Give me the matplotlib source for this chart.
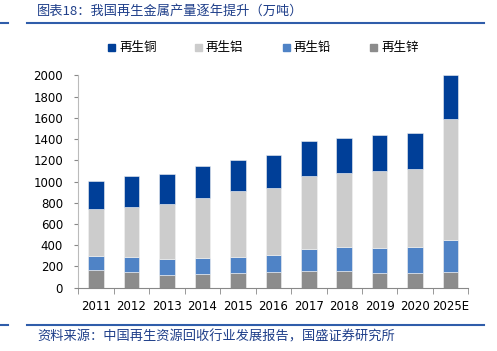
import numpy as np
import matplotlib.pyplot as plt
from matplotlib.lines import Line2D

plt.rcParams['font.family'] = ['Noto Sans CJK SC', 'DejaVu Sans']

years = ['2011', '2012', '2013', '2014', '2015', '2016', '2017', '2018', '2019', '2020', '2025E']
zinc = [167, 145, 120, 129, 135, 148, 157, 160, 141, 141, 148]
lead = [134, 141, 150, 150, 154, 163, 204, 223, 235, 239, 298]
aluminum = [437, 476, 520, 562, 618, 627, 687, 694, 722, 737, 1142]
copper = [270, 286, 283, 307, 297, 308, 330, 335, 342, 336, 411]

names = ['再生铜', '再生铝', '再生铅', '再生锌']
colors = ['#003F98', '#CCCCCC', '#4F83C6', '#8C8C8C']

fig = plt.figure(figsize=(4.97, 3.51), dpi=100)
ax = fig.add_axes([0.1576, 0.1803, 0.7847, 0.6052])

x = np.arange(len(years))
w = 0.44
bottom = np.zeros(len(years))
for vals, c in [(zinc, colors[3]), (lead, colors[2]), (aluminum, colors[1]), (copper, colors[0])]:
    ax.bar(x, vals, w, bottom=bottom, color=c, edgecolor='#F2F2F2', linewidth=0.4)
    bottom += np.array(vals)

ax.set_xlim(-0.5, len(years) - 0.5)
ax.set_ylim(0, 2000)
ax.set_yticks(range(0, 2001, 200))
ax.tick_params(axis='y', labelsize=8.5, length=3, color='#888888', pad=8)
ax.set_xticks(x)
ax.set_xticklabels(years, fontsize=8.5)
ax.tick_params(axis='x', length=0, pad=9)
ax.set_xticks(np.arange(-0.5, len(years) + 0.5, 1), minor=True)
ax.tick_params(axis='x', which='minor', length=4, color='#888888')
for s in ['top', 'right']:
    ax.spines[s].set_visible(False)
ax.spines['left'].set_color('#BBBBBB')
ax.spines['bottom'].set_color('#888888')
for lbl in ax.get_xticklabels() + ax.get_yticklabels():
    lbl.set_family('DejaVu Sans')

# legend
lx = [108, 195, 283, 370]
for px, name, c in zip(lx, names, colors):
    fig.patches.append(plt.Rectangle((px / 497, 1 - 51 / 351), 7 / 497, 7 / 351,
                                     transform=fig.transFigure, color=c))
    fig.text((px + 11) / 497, 1 - 47.5 / 351, name, fontsize=9, va='center', ha='left')

blue = '#2F5DAA'
fig.add_artist(Line2D([27 / 497, 484 / 497], [1 - 22.5 / 351] * 2, color=blue, lw=1.5))
fig.add_artist(Line2D([0, 8 / 497], [1 - 22.5 / 351] * 2, color=blue, lw=1.5))
fig.add_artist(Line2D([27 / 497, 484 / 497], [1 - 325 / 351] * 2, color=blue, lw=1.5))
fig.add_artist(Line2D([0, 8 / 497], [1 - 325 / 351] * 2, color=blue, lw=1.5))

fig.text(37 / 497, 1 - 11 / 351, '图表18：我国再生金属产量逐年提升（万吨）', fontsize=9.5,
         color='#1F3F8A', style='italic', va='center', ha='left')
fig.text(37 / 497, 1 - 337 / 351, '资料来源：中国再生资源回收行业发展报告，国盛证券研究所', fontsize=9.5,
         color='#1F3F8A', style='italic', va='center', ha='left')

fig.savefig('out.png', dpi=100)
